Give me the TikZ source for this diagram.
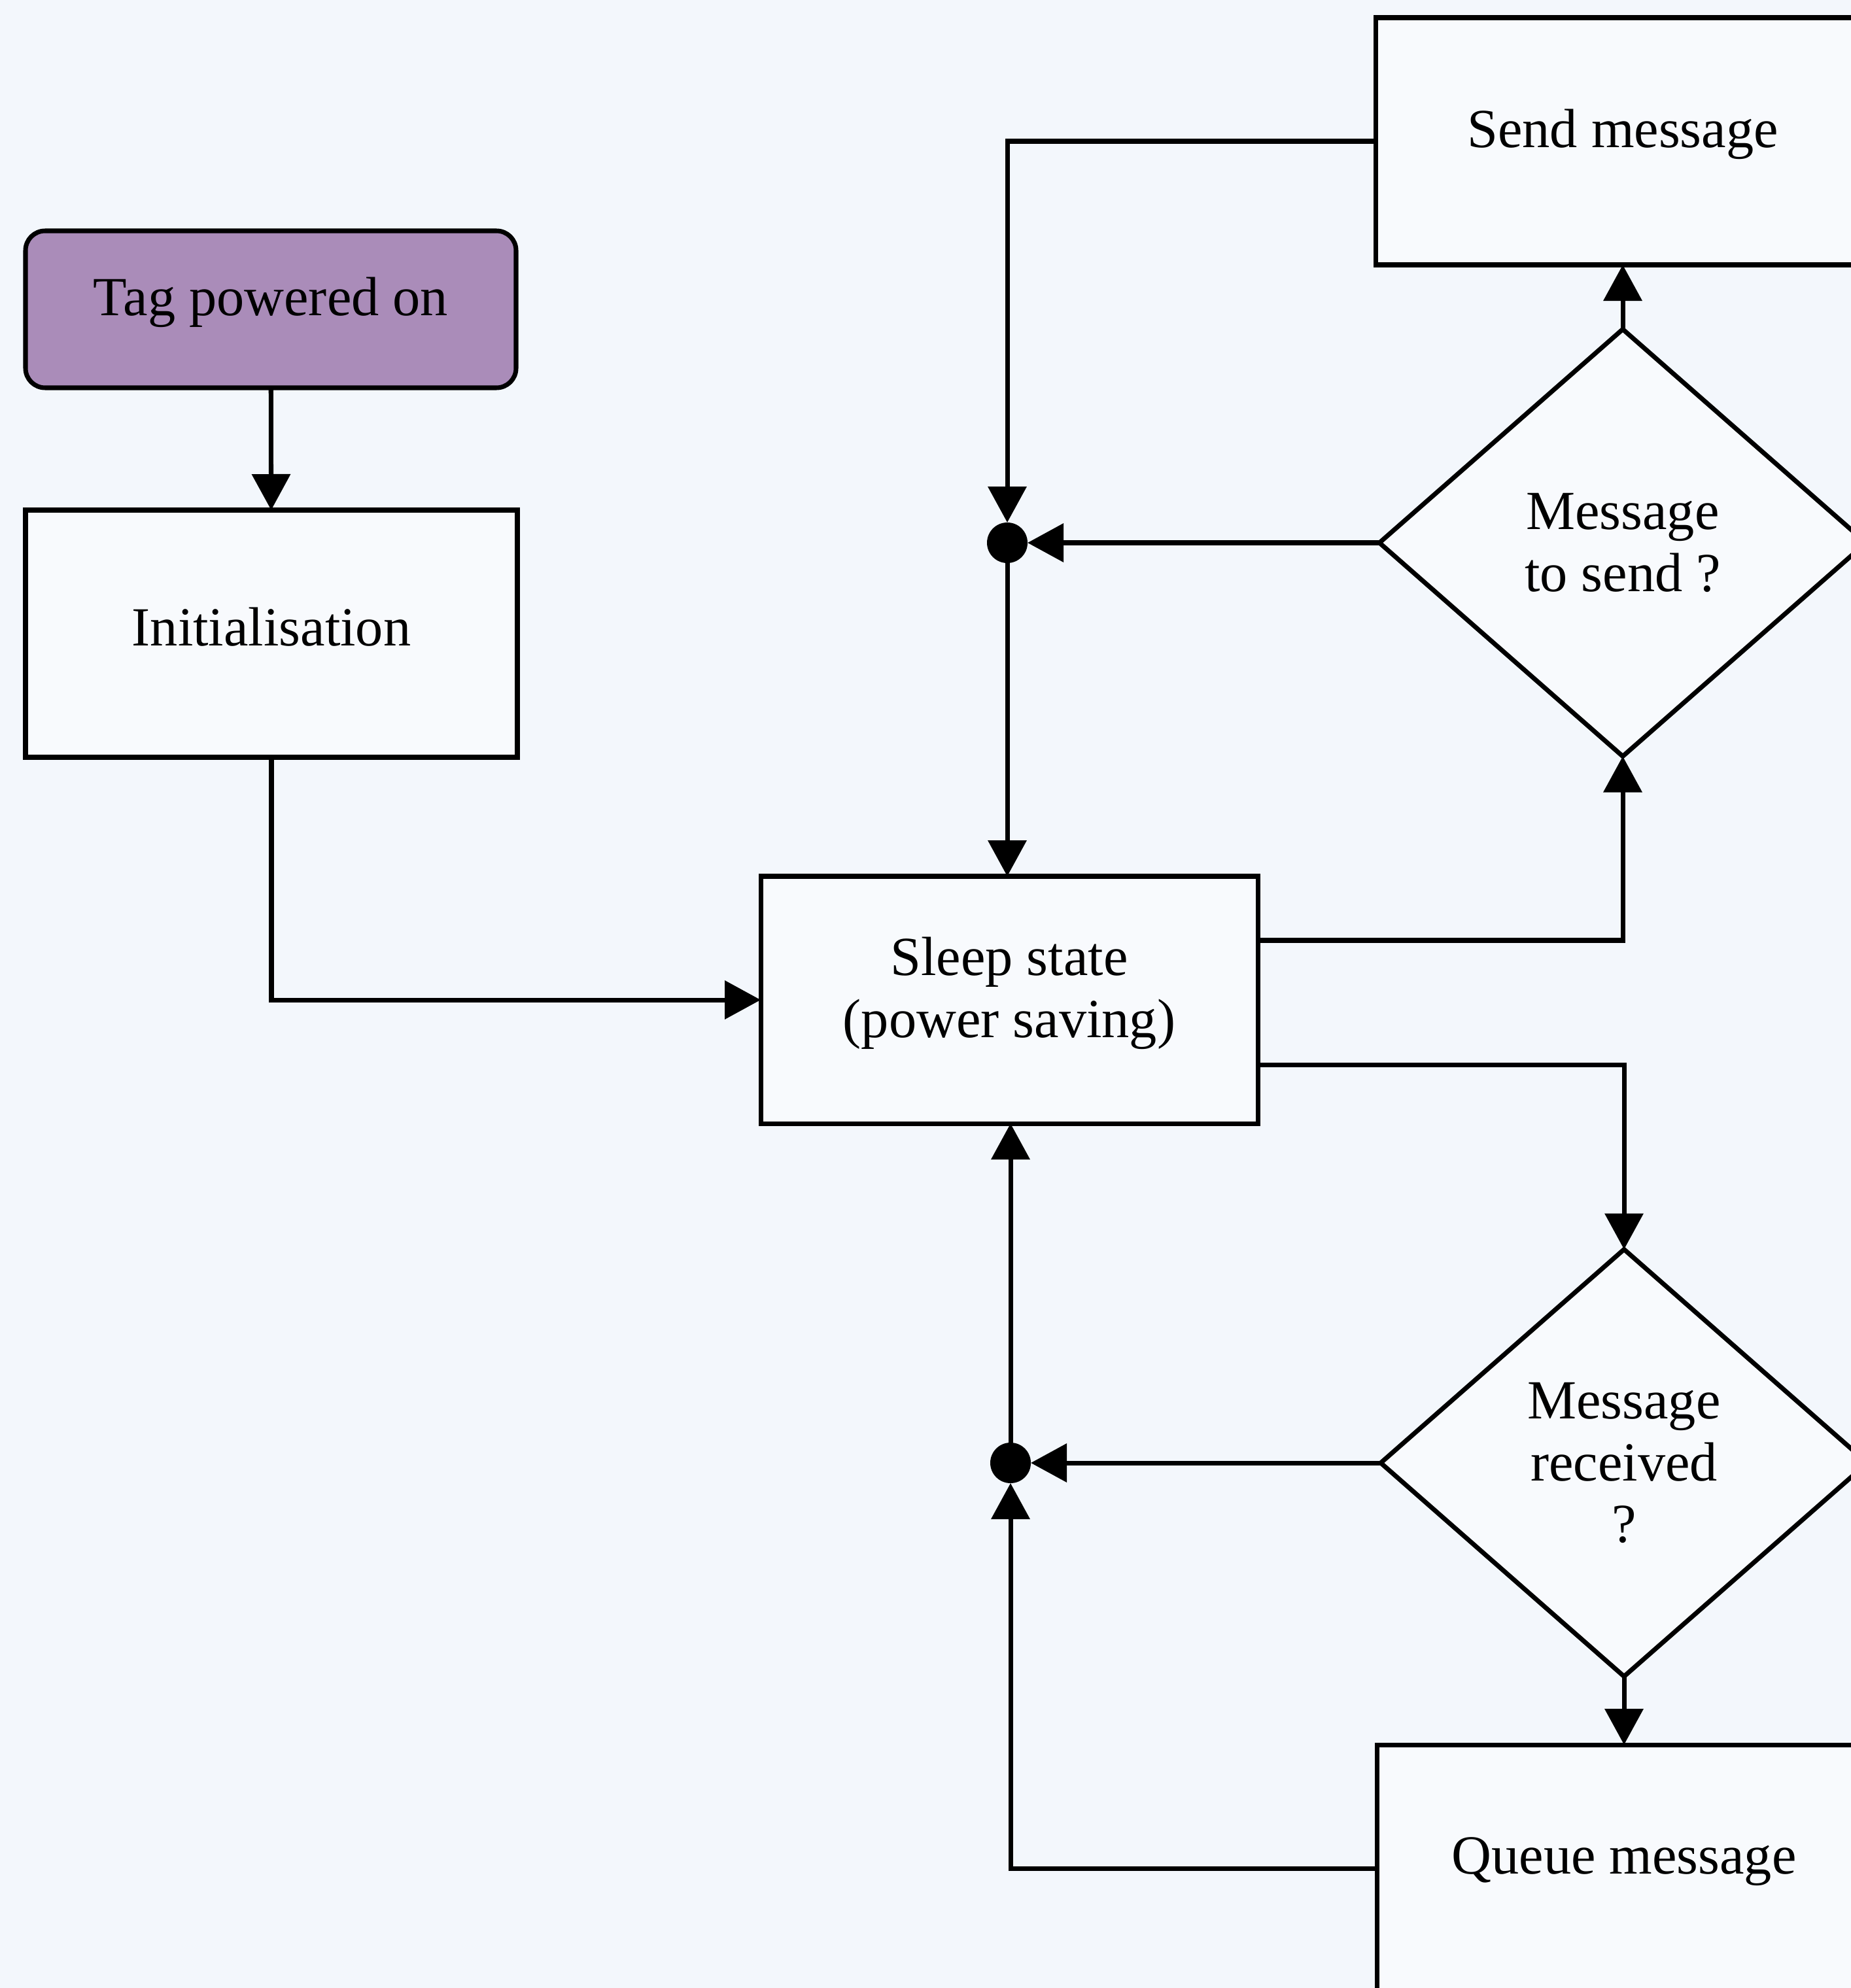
\documentclass[tikz,border=0pt]{standalone}
\usepackage{fontspec}
\setmainfont{Liberation Serif}
\usetikzlibrary{shapes.geometric,arrows.meta}
\definecolor{paper}{RGB}{243,247,252}
\definecolor{startfill}{RGB}{170,140,185}
% lift a line of box text a little without changing the box size
\newcommand{\boxline}[1]{\raisebox{3pt}[\height][\depth]{#1}}
\tikzset{
  base/.style={draw=black, line width=2pt, inner sep=0pt, outer sep=0pt,
    font=\fontsize{24}{27}\selectfont, align=center, fill=white!40!paper},
  procbox/.style={base, rectangle, minimum width=7.56cm, minimum height=3.78cm},
  startbox/.style={base, rectangle, rounded corners=0.3cm, fill=startfill,
    minimum width=7.5cm, minimum height=2.4cm},
  decision/.style={base, diamond, minimum width=7.44cm, minimum height=6.53cm},
  junction/.style={circle, fill=black, inner sep=0pt, outer sep=0pt, minimum size=0.62cm},
  flow/.style={line width=2pt, -{Triangle[length=0.55cm,width=0.58cm]}},
}
\begin{document}
\begin{tikzpicture}
  \fill[paper] (0,0) rectangle (28.3,-30.4);
  \useasboundingbox (0,0) rectangle (28.3,-30.4);

  % nodes
  \node[startbox] (tag) at (4.14,-4.73) {\boxline{Tag powered on}};
  \node[procbox, minimum width=7.52cm] (init) at (4.15,-9.69) {\boxline{Initialisation}};
  \node[procbox, minimum width=7.6cm] (sleep) at (15.43,-15.29)
    {\boxline{Sleep state}\\\boxline{(power saving)}};
  \node[procbox] (send) at (24.81,-2.16) {\boxline{Send message}};
  \node[decision] (d1) at (24.81,-8.30) {Message\\to send ?};
  \node[decision] (d2) at (24.83,-22.37) {Message\\received\\?};
  \node[procbox] (queue) at (24.83,-28.57) {\boxline{Queue message}};
  \node[junction] (j1) at (15.40,-8.30) {};
  \node[junction] (j2) at (15.45,-22.37) {};

  % connectors
  \draw[flow] (tag) -- (init);
  \draw[flow] (init.south) |- (sleep.west);
  \draw[flow] ([yshift=0.91cm]sleep.east) -| (d1.south);
  \draw[flow] ([yshift=-0.99cm]sleep.east) -| (d2.north);
  \draw[flow] (d1.north) -- (send.south);
  \draw[flow] (d2.south) -- (queue.north);
  \draw[flow] (send.west) -| (j1);
  \draw[flow] (d1.west) -- (j1);
  \draw[flow] (j1) -- (j1 |- sleep.north);
  \draw[flow] (queue.west) -| (j2);
  \draw[flow] (d2.west) -- (j2);
  \draw[flow] (j2) -- (j2 |- sleep.south);
\end{tikzpicture}
\end{document}
